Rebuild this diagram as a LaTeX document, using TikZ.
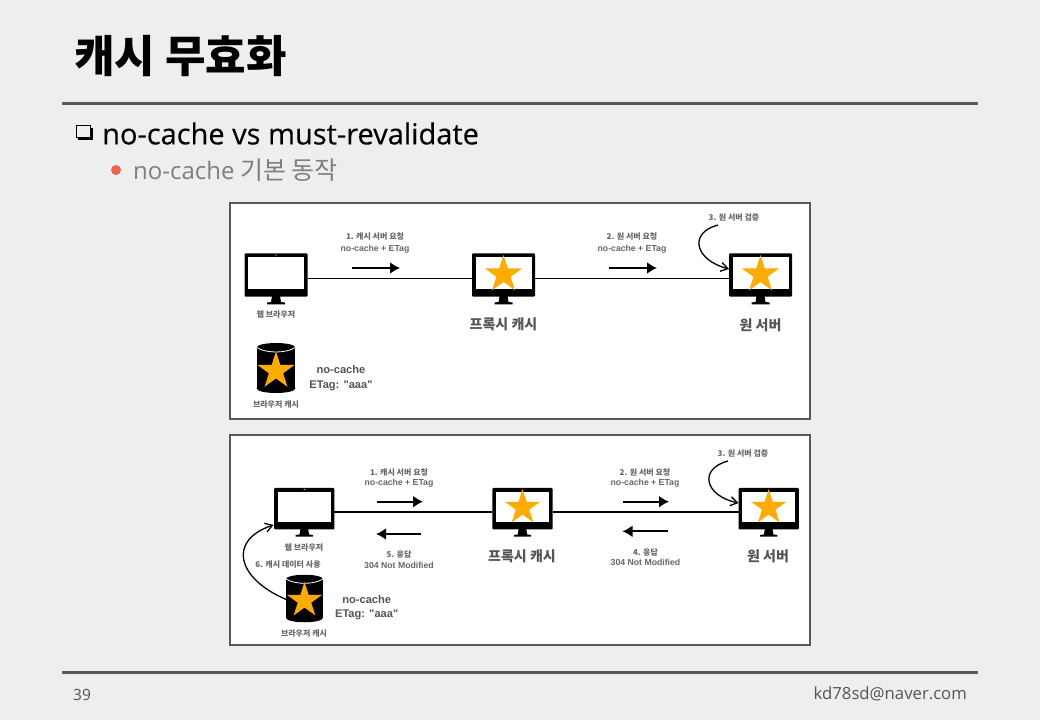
\documentclass[tikz,border=0pt]{standalone}
\usepackage{fontspec}
\usetikzlibrary{arrows.meta,shapes.geometric}
\setmainfont{Noto Sans CJK KR}
\newfontfamily\latinfont{Open Sans}
\newfontfamily\headfont[FakeBold=.25]{Open Sans}
\newfontfamily\labelfont{Liberation Sans}
\definecolor{pagegray}{HTML}{EEEEEE}
\definecolor{rulegray}{HTML}{595959}
\definecolor{labelgray}{HTML}{555555}
\definecolor{tinygray}{HTML}{666666}
\definecolor{subgray}{HTML}{7F7F7F}
\definecolor{dotred}{HTML}{F0634A}
\definecolor{starorange}{HTML}{FFAB00}
\tikzset{
  panel/.style={draw=rulegray,line width=1.6pt,fill=white},
  toprule/.style={draw=rulegray,line width=3pt},
  link/.style={line width=1.5pt},
  flow/.style={line width=2pt,-{Latex[length=10pt,width=12pt]}},
  curved/.style={line width=1.3pt,-{Straight Barb[length=7pt,width=9pt]}},
  starmark/.style={star,star points=5,star point ratio=2.618,fill=starorange,inner sep=0pt,minimum size=#1},
  tiny/.style={text=tinygray,font=\bfseries\fontsize{8}{10}\selectfont},
  tinylat/.style={text=tinygray,font=\labelfont\bfseries\fontsize{8.7}{10}\selectfont},
  midlat/.style={text=labelgray,font=\labelfont\bfseries\fontsize{11.1}{13}\selectfont},
  big/.style={text=labelgray,font=\bfseries\fontsize{14}{16}\selectfont},
  pics/monitor/.style={code={
    \fill[black,rounded corners=1pt] (-31.5,-21.7) rectangle (31.5,21.7);
    \fill[white] (-28,-17.7) rectangle (28,14);
    \fill[black] (-4,21) -- (4,21) -- (5,27) -- (9,27.5) -- (9,29.3) -- (-9,29.3) -- (-9,27.5) -- (-5,27) -- cycle;
    \coordinate (-w) at (-31.5,3.7);
    \coordinate (-e) at (31.5,3.7);
    \coordinate (-nw) at (-31.5,-6);
  }},
  pics/dbcyl/.style={code={
    \fill[black] (-19.3,-20.5) rectangle (19.3,20.5);
    \fill[black] (0,-20.5) ellipse [x radius=19.3,y radius=4.5];
    \fill[black] (0,20.5) ellipse [x radius=19.3,y radius=4.5];
    \draw[white,line width=.8pt] (-19.3,-20.5) .. controls (-10,-14.5) and (10,-14.5) .. (19.3,-20.5);
    \coordinate (-w) at (-19.3,1);
  }}
}
\begin{document}
\begin{tikzpicture}[x=1pt,y=-1pt]

% Page
\fill[pagegray] (0,0) rectangle (1040,720);
\useasboundingbox (0,0) rectangle (1040,720);

% Header
\node[anchor=west,inner sep=0pt,font=\bfseries\fontsize{44}{50}\selectfont] (title) at (74,56) {캐시 무효화};
\draw[toprule] (62,103) -- (978,103);
\draw[line width=.9pt] (76.5,125.5) rectangle (90.5,137.5);
\draw[line width=1.5pt] (92,127.5) -- (92,139) -- (78,139);
\node[anchor=west,inner sep=0pt,font=\headfont\fontsize{29}{34}\selectfont] (head) at (102,133.5) {no-cache vs must-revalidate};
\fill[dotred] (116,170) circle (5);
\node[anchor=west,inner sep=0pt,text=subgray,font=\fontsize{25}{30}\selectfont] (sub) at (133,170) {{\latinfont\fontsize{24}{30}\selectfont no-cache} 기본 동작};

% Top panel
\draw[panel] (230,203) rectangle (810,419);
\pic (browserA) at (276,275) {monitor};
\pic (proxyA) at (503.5,275) {monitor};
\pic (serverA) at (760.5,275) {monitor};
\fill[white] (276,255) circle (.6);
\node[starmark=39pt] (starproxyA) at (503.5,274.5) {};
\node[starmark=39pt] (starserverA) at (760.5,274.5) {};
\pic (cacheA) at (276,368) {dbcyl};
\node[starmark=39pt] (starcacheA) at (276,371) {};
\draw[link] (browserA-e) -- (proxyA-w);
\draw[link] (proxyA-e) -- (serverA-w);
\node[tiny] (reqA) at (375,237) {1. 캐시 서버 요청};
\node[tinylat] (tagA) at (375,249) {no-cache + ETag};
\node[tiny] (reqB) at (632,237) {2. 원 서버 요청};
\node[tinylat] (tagB) at (632,249) {no-cache + ETag};
\node[tiny] (checkA) at (734,217.5) {3. 원 서버 검증};
\node[tiny] (nameA) at (276,314.5) {웹 브라우저};
\node[big] (nameB) at (503.5,324.5) {프록시 캐시};
\node[big] (nameC) at (760.5,325) {원 서버};
\node[tiny] (nameD) at (276,404.5) {브라우저 캐시};
\node[midlat] (nocacheA) at (341,370) {no-cache};
\node[midlat] (etagA) at (341,386) {ETag: "aaa"};
\coordinate (checkAs) at (718,225);
\draw[curved] (checkAs) .. controls (688,233) and (695,260) .. (serverA-nw);

% Bottom panel
\draw[panel] (230,435) rectangle (810,645);
\pic[scale=.955] (browserB) at (304.3,508.7) {monitor};
\pic[scale=.955] (proxyB) at (522.5,508.7) {monitor};
\pic[scale=.955] (serverB) at (768.7,508.7) {monitor};
\fill[white] (304.3,489.5) circle (.6);
\node[starmark=37pt] (starproxyB) at (522.5,507.5) {};
\node[starmark=37pt] (starserverB) at (768.7,507.5) {};
\pic[scale=.95] (cacheB) at (304.5,598.5) {dbcyl};
\node[starmark=37pt] (starcacheB) at (304.5,600.5) {};
\draw[link] (browserB-e) -- (proxyB-w);
\draw[link] (proxyB-e) -- (serverB-w);
\node[tiny] (reqC) at (399,472) {1. 캐시 서버 요청};
\node[tinylat] (tagC) at (399,483.7) {no-cache + ETag};
\node[tiny] (reqD) at (645,472) {2. 원 서버 요청};
\node[tinylat] (tagD) at (645,483.7) {no-cache + ETag};
\node[tiny] (checkB) at (743,453.5) {3. 원 서버 검증};
\node[tiny] (respA) at (399,554) {5. 응답};
\node[tinylat] (codeA) at (399,565) {304 Not Modified};
\node[tiny] (respB) at (645.5,552) {4. 응답};
\node[tinylat] (codeB) at (645.5,562.5) {304 Not Modified};
\node[tiny] (useC) at (288,564) {6. 캐시 데이터 사용};
\node[tiny] (nameE) at (304,547) {웹 브라우저};
\node[big] (nameF) at (522,556.5) {프록시 캐시};
\node[big] (nameG) at (768,556) {원 서버};
\node[tiny] (nameH) at (304,633) {브라우저 캐시};
\node[midlat] (nocacheB) at (366.7,599.7) {no-cache};
\node[midlat] (etagB) at (366.7,614.7) {ETag: "aaa"};
\coordinate (checkBs) at (728,461);
\draw[curved] (checkBs) .. controls (698,469) and (705,496) .. (serverB-nw);
\coordinate (useCe) at (273.5,525);
\draw[curved] (cacheB-w) .. controls (236,578) and (228,540) .. (useCe);

% Small arrows between the monitors
\foreach \nm/\xa/\xb/\yy in {a/352/400/268,b/609/657/268,c/377/423/501.7,d/623/669/501.7,e/421/376/534,f/668/622.5/531.3} {
  \coordinate (\nm s) at (\xa,\yy);
  \coordinate (\nm e) at (\xb,\yy);
  \draw[flow] (\nm s) -- (\nm e);
}

% Footer
\draw[toprule] (62,672) -- (978,672);
\node[anchor=west,inner sep=0pt,text=labelgray,font=\latinfont\fontsize{15.5}{18}\selectfont] (page) at (73,694.5) {39};
\node[anchor=east,inner sep=0pt,text=labelgray,font=\latinfont\fontsize{16.7}{19}\selectfont] (mail) at (967,693.5) {kd78sd@naver.com};

\end{tikzpicture}
\end{document}
